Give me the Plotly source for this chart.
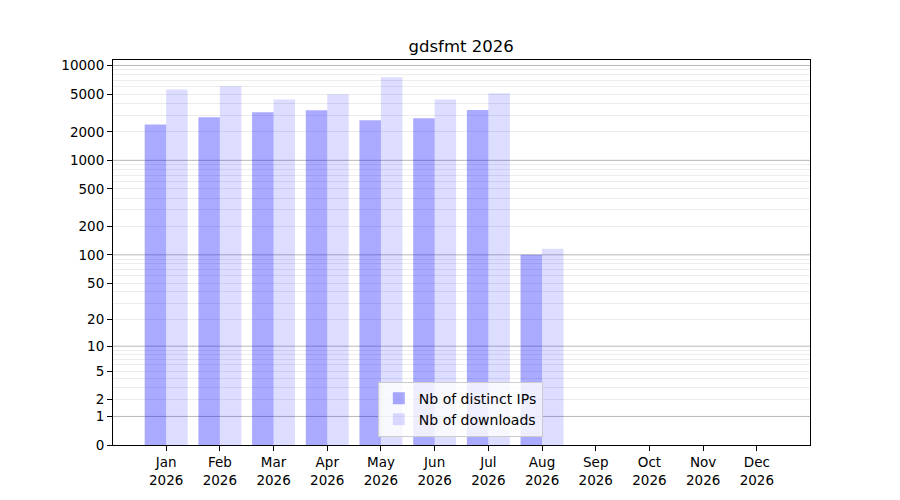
import numpy as np
import plotly.graph_objects as go

# monthly stats (Sep-Dec have no data yet)
months = ["Jan", "Feb", "Mar", "Apr", "May", "Jun",
          "Jul", "Aug", "Sep", "Oct", "Nov", "Dec"]
year = 2026
distinct_ips = [2390, 2850, 3210, 3380, 2650, 2780, 3390, 100,
                None, None, None, None]
downloads = [5580, 6050, 4380, 4980, 7530, 4380, 5100, 116,
             None, None, None, None]

tick_values = [0, 1, 2, 5, 10, 20, 50, 100, 200, 500, 1000, 2000, 5000, 10000]
major_grid = [1, 10, 100, 1000, 10000]
minor_grid = [m * 10 ** d for d in range(4) for m in range(2, 10)]


def tr(v):
    """log10(v + 1) scale, as used by the original chart."""
    return np.log10(np.asarray(v, dtype=float) + 1)


def scaled(vals):
    return [None if v is None else float(tr(v)) for v in vals]


x = list(range(len(months)))
ticktext = [f"{m}<br>{year}" for m in months]

fig = go.Figure()
fig.add_trace(go.Bar(
    x=x, y=scaled(distinct_ips), customdata=distinct_ips,
    name="Nb of distinct IPs",
    marker=dict(color="rgba(0,0,255,0.333)", line=dict(width=0)),
    hovertemplate="%{customdata}<extra>IPs</extra>",
))
fig.add_trace(go.Bar(
    x=x, y=scaled(downloads), customdata=downloads,
    name="Nb of downloads",
    marker=dict(color="rgba(0,0,255,0.133)", line=dict(width=0)),
    hovertemplate="%{customdata}<extra>downloads</extra>",
))

# darker grid lines on the decades
for v in major_grid:
    fig.add_shape(type="line", xref="paper", x0=0, x1=1,
                  yref="y", y0=float(tr(v)), y1=float(tr(v)),
                  line=dict(color="#b8b8b8", width=1), layer="below")

fig.update_layout(
    width=900, height=500,
    margin=dict(l=105, r=98, t=52, b=63),
    paper_bgcolor="white", plot_bgcolor="white",
    font=dict(family="DejaVu Sans", size=13.5, color="black"),
    title=dict(text="gdsfmt 2026", x=0.5035, xanchor="center",
               y=0.923, yanchor="middle", font=dict(size=16.5)),
    barmode="group", bargap=0.2, bargroupgap=0,
    showlegend=True,
    legend=dict(x=0.38, y=0.022, xanchor="left", yanchor="bottom",
                bgcolor="rgba(255,255,255,0.8)", bordercolor="#cccccc",
                borderwidth=1, font=dict(size=14), tracegroupgap=0),
)
fig.update_xaxes(
    range=[-0.99, 11.99], tickmode="array", tickvals=x, ticktext=ticktext,
    showgrid=False, zeroline=False, showline=True, mirror=True,
    linecolor="black", linewidth=1, ticks="outside", ticklen=5,
    tickcolor="black",
)
fig.update_yaxes(
    range=[0, 4.058], tickmode="array",
    tickvals=[float(tr(v)) for v in tick_values],
    ticktext=[str(v) for v in tick_values],
    showgrid=False, zeroline=False, showline=True, mirror=True,
    linecolor="black", linewidth=1, ticks="outside", ticklen=5,
    tickcolor="black",
    minor=dict(tickmode="array", tickvals=[float(tr(v)) for v in minor_grid],
               showgrid=True, gridcolor="#ececec", gridwidth=1, ticks=""),
)

fig.write_html("out.html")
